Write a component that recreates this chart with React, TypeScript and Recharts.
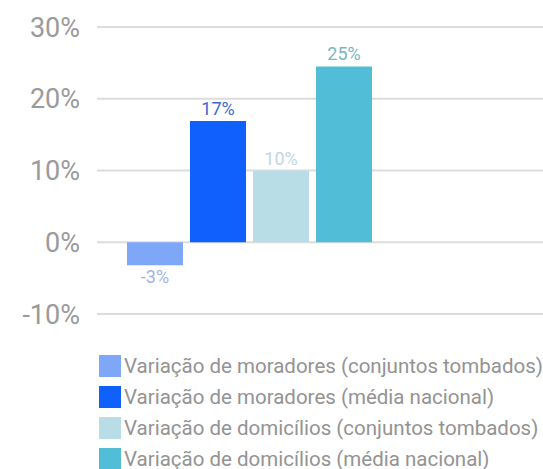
import React from 'react';
import { BarChart, Bar, XAxis, YAxis, CartesianGrid, Legend } from 'recharts';

// séries (uma barra por série, uma única categoria)
const seriesKeys = ['moradoresTombados', 'moradoresNacional', 'domiciliosTombados', 'domiciliosNacional'];
const seriesNames = [
  'Variação de moradores (conjuntos tombados)',
  'Variação de moradores (média nacional)',
  'Variação de domicílios (conjuntos tombados)',
  'Variação de domicílios (média nacional)',
];
const seriesValues = [-3.2, 16.9, 10, 24.5];
const yTicks = [-10, 0, 10, 20, 30];

const barColors = ['#7ea7f8', '#1060fd', '#b9dde6', '#52bdd6'];
const labelColors = ['#9fb4e8', '#3d68d8', '#c3d6de', '#7ab5c4'];

const row: Record<string, any> = { name: 'Variação' };
seriesKeys.forEach((k, i) => {
  row[k] = seriesValues[i];
});
const data = [row];

const FONT = 'Roboto, sans-serif';

const makeLabel = (color: string) => (props: any) => {
  const { x, y, width, height, value } = props;
  const top = Math.min(y, y + height);
  const bottom = Math.max(y, y + height);
  const ty = value < 0 ? bottom + 18 : top - 6;
  return (
    <text
      x={x + width / 2}
      y={ty}
      textAnchor="middle"
      fill={color}
      fontSize={18}
      fontFamily={FONT}
    >
      {`${Math.round(value)}%`}
    </text>
  );
};

const LegendList = () => (
  <div style={{ paddingTop: 36, paddingLeft: 99, fontFamily: FONT }}>
    {seriesNames.map((n, i) => (
      <div key={n} style={{ display: 'flex', alignItems: 'center', height: 31 }}>
        <span
          style={{
            display: 'inline-block',
            width: 22,
            height: 22,
            background: barColors[i],
            marginRight: 3,
            flexShrink: 0,
          }}
        />
        <span style={{ color: '#939393', fontSize: 20.5, whiteSpace: 'nowrap' }}>{n}</span>
      </div>
    ))}
  </div>
);

export default function App() {
  return (
    <div style={{ position: 'absolute', left: 0, top: 0, background: '#fff' }}>
      <BarChart
        width={543}
        height={469}
        data={data}
        margin={{ top: 27, right: 0, bottom: 0, left: 0 }}
        barCategoryGap={0}
        barGap={7}
      >
        <CartesianGrid vertical={false} stroke="#dcdcdc" strokeWidth={2} />
        <XAxis dataKey="name" type="category" hide padding={{ left: 30, right: 172 }} />
        <YAxis
          type="number"
          domain={[-10, 30]}
          ticks={yTicks}
          tickFormatter={(v) => `${v}%`}
          axisLine={false}
          tickLine={false}
          tickSize={0}
          tickMargin={17}
          width={97}
          tick={{ fill: '#9a9a9a', fontSize: 27, fontFamily: FONT }}
        />
        <Legend
          verticalAlign="bottom"
          align="left"
          layout="horizontal"
          content={<LegendList />}
          wrapperStyle={{ width: 543, height: 155, left: 0, overflow: 'hidden' }}
        />
        {seriesKeys.map((k, i) => (
          <Bar
            key={k}
            dataKey={k}
            name={seriesNames[i]}
            fill={barColors[i]}
            isAnimationActive={false}
            label={makeLabel(labelColors[i])}
          />
        ))}
      </BarChart>
    </div>
  );
}
